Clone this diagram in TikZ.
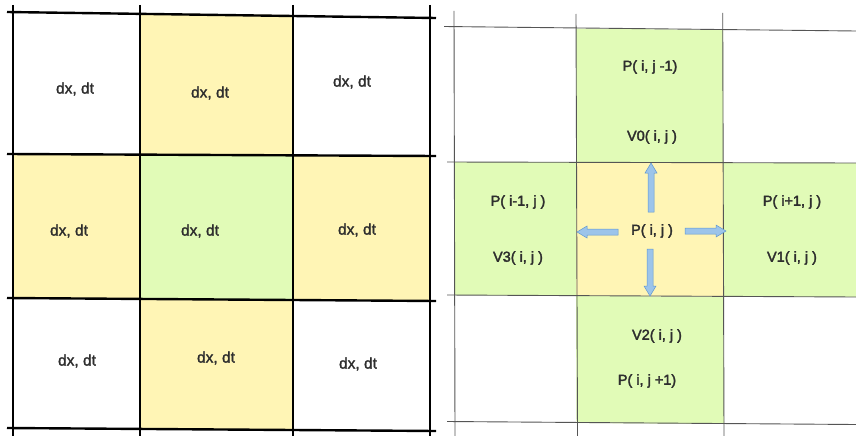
\documentclass[tikz,border=0pt]{standalone}
\usepackage{fontspec}
\setmainfont{Liberation Sans}
\newfontfamily\lfont[FakeBold=1.6]{Liberation Sans}
\newfontfamily\rfont[FakeBold=2.4]{Liberation Sans}
\definecolor{cyel}{HTML}{FFF5B5}
\definecolor{cgrn}{HTML}{E1FBB7}
\definecolor{ctxt}{HTML}{2E2E2E}
\definecolor{afill}{HTML}{9CC4EA}
\definecolor{aline}{HTML}{5E96D0}
\definecolor{rline}{HTML}{555555}
\tikzset{
  thickgrid/.style={line width=2.4pt, black},
  thingrid/.style={line width=0.9pt, rline},
  lcell/.style={font=\lfont\fontsize{15.5}{18}\selectfont, text=ctxt, inner sep=1pt},
  rlabel/.style={font=\rfont\fontsize{14.5}{17}\selectfont, text=ctxt, inner sep=1pt},
  arrowsty/.style={fill=afill, draw=aline, line width=0.5pt, line join=miter}
}
\newcommand{\blockarrow}[3]{%
  \draw[arrowsty, shift={#1}, rotate=#2] (0,-3) -- (#3-10,-3) -- (#3-10,-6) -- (#3,0) -- (#3-10,6) -- (#3-10,3) -- (0,3) -- cycle;}
\begin{document}
\begin{tikzpicture}[x=1pt,y=-1pt]
\useasboundingbox (0,0) rectangle (856,436);
\fill[white] (0,0) rectangle (856,436);
% ---------- left grid fills ----------
\fill[cyel] (140,13.3) -- (293,15) -- (293,155) -- (140,154.8) -- cycle;
\fill[cyel] (13,154) -- (140,154.8) -- (140,299) -- (13,298) -- cycle;
\fill[cgrn] (140,154.8) -- (293,155) -- (293,300) -- (140,299) -- cycle;
\fill[cyel] (293,155) -- (430,156) -- (430,301) -- (293,300) -- cycle;
\fill[cyel] (140,299) -- (293,300) -- (293,430) -- (140,429) -- cycle;
% ---------- left grid lines ----------
\draw[thickgrid] (7,12) -- (436,18);
\draw[thickgrid] (7,154) -- (436,156);
\draw[thickgrid] (7,298) -- (436,301);
\draw[thickgrid] (7,428) -- (436,431);
\draw[thickgrid] (13,5) -- (13,436);
\draw[thickgrid] (140,5) -- (140,436);
\draw[thickgrid] (293,5) -- (293,436);
\draw[thickgrid] (430,5) -- (430,436);
% ---------- left labels ----------
\node[lcell] (l00) at (75,89) {dx, dt};
\node[lcell] (l10) at (210,93) {dx, dt};
\node[lcell] (l20) at (352,82) {dx, dt};
\node[lcell] (l01) at (69,231) {dx, dt};
\node[lcell] (l11) at (200,231) {dx, dt};
\node[lcell] (l21) at (357,230) {dx, dt};
\node[lcell] (l02) at (77,361) {dx, dt};
\node[lcell] (l12) at (216,358) {dx, dt};
\node[lcell] (l22) at (358,364) {dx, dt};
% ---------- right grid fills ----------
\fill[cgrn] (576,28.5) -- (723,30) -- (723,163) -- (576,162) -- cycle;
\fill[cgrn] (454,162) -- (576,162) -- (576,296) -- (454,295) -- cycle;
\fill[cyel] (576,162) -- (723,163) -- (723.5,296.5) -- (576,296) -- cycle;
\fill[cgrn] (723,163) -- (856,163) -- (856,297) -- (723.5,296.5) -- cycle;
\fill[cgrn] (576,296) -- (723.5,296.5) -- (724,424) -- (576.5,423) -- cycle;
% ---------- right grid lines ----------
\draw[thingrid] (444,26.5) -- (856,31);
\draw[thingrid] (447,162) -- (856,163);
\draw[thingrid] (447,295) -- (856,297);
\draw[thingrid] (447,421.5) -- (856,424.5);
\draw[thingrid] (454,11) -- (455,436);
\draw[thingrid] (576,14) -- (577.5,436);
\draw[thingrid] (722.7,13) -- (724,436);
% ---------- right labels ----------
\node[rlabel] (pt) at (650,67) {P( i, j -1)};
\node[rlabel] (v0) at (652,137) {V0( i, j )};
\node[rlabel] (pl) at (518,202) {P( i-1, j )};
\node[rlabel] (pr) at (792,202) {P( i+1, j )};
\node[rlabel] (pc) at (652,231) {P( i, j )};
\node[rlabel] (v3) at (518,258) {V3( i, j )};
\node[rlabel] (v1) at (792,258) {V1( i, j )};
\node[rlabel] (v2) at (657,336) {V2( i, j )};
\node[rlabel] (pb) at (647,381) {P( i, j +1)};
% ---------- arrows ----------
\blockarrow{(651,212)}{90}{49}
\blockarrow{(650,249)}{-90}{47}
\blockarrow{(618,232)}{180}{41}
\blockarrow{(685,231)}{0}{41}
\end{tikzpicture}
\end{document}
